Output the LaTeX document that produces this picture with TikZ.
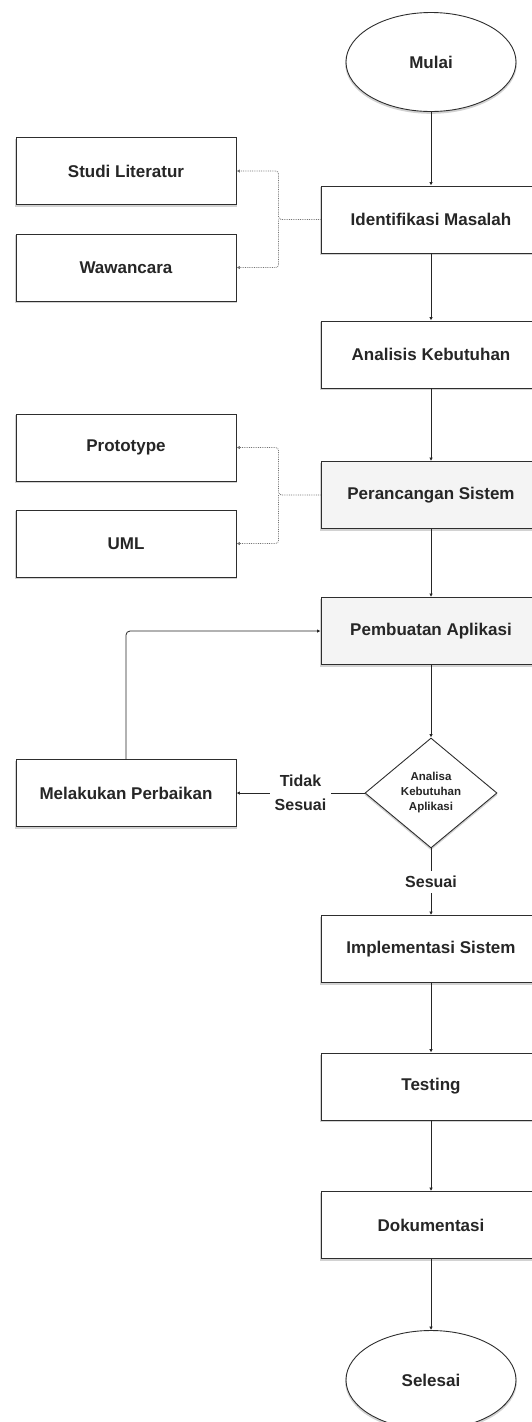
\documentclass[tikz,border=0pt]{standalone}
\usepackage{fontspec}
\setmainfont{Liberation Sans}
\usetikzlibrary{shapes.geometric,arrows.meta,shadows}
\definecolor{boxline}{HTML}{2E2E2E}
\definecolor{graybox}{HTML}{F4F4F4}
\definecolor{txt}{HTML}{262626}
\begin{document}
\begin{tikzpicture}[x=1pt,y=1pt,
  base/.style={draw=boxline, line width=0.9pt, fill=white, text=txt,
    font=\fontsize{17}{20}\selectfont\bfseries,
    drop shadow={opacity=0.35, shadow xshift=0pt, shadow yshift=-1.8pt, shadow scale=1.01}},
  box/.style={base, rectangle, minimum width=220, minimum height=67, inner sep=0pt},
  graybx/.style={box, fill=graybox},
  term/.style={base, ellipse, minimum width=170, minimum height=99, inner sep=0pt},
  decide/.style={base, diamond, minimum width=132, minimum height=110, inner sep=0pt, aspect=1.2,
    align=center, font=\fontsize{11.5}{15}\selectfont\bfseries},
  arrow/.style={draw=black!85, line width=0.8pt, -{Latex[length=3.5pt,width=3.5pt]}},
  dotarrow/.style={draw=black!55, line width=0.8pt, densely dotted, rounded corners=3pt,
    -{Latex[length=3.5pt,width=3.5pt]}},
  lbl/.style={fill=white, text=txt, align=center, inner sep=5pt,
    font=\fontsize{16}{24}\selectfont\bfseries}
]
\useasboundingbox (0,0) rectangle (532,-1422);
\fill[white] (0,0) rectangle (532,-1422);
\clip (0,0) rectangle (532,-1422);

\node[term]   (mulai)  at (431,-62)     {Mulai};
\node[box]    (ident)  at (431,-219.5)  {Identifikasi Masalah};
\node[box]    (studi)  at (126,-171)    {Studi Literatur};
\node[box]    (wawan)  at (126,-267.5)  {Wawancara};
\node[box]    (anal)   at (431,-354.5)  {Analisis Kebutuhan};
\node[box]    (proto)  at (126,-447.5)  {Prototype};
\node[box]    (uml)    at (126,-543.5)  {UML};
\node[graybx] (peran)  at (431,-495)    {Perancangan Sistem};
\node[graybx] (pemb)   at (431,-631)    {Pembuatan Aplikasi};
\node[box]    (perb)   at (126,-793)    {Melakukan Perbaikan};
\node[decide] (diam)   at (431,-793)    {Analisa\\Kebutuhan\\Aplikasi};
\node[box]    (impl)   at (431,-949)    {Implementasi Sistem};
\node[box]    (test)   at (431,-1086.5) {Testing};
\node[box]    (dok)    at (431,-1225)   {Dokumentasi};
\node[term]   (selesai) at (431,-1380)  {Selesai};

\draw[arrow] (mulai) -- (ident);
\draw[arrow] (ident) -- (anal);
\draw[arrow] (anal) -- (peran);
\draw[arrow] (peran) -- (pemb);
\draw[arrow] (pemb) -- (diam);
\draw[arrow] (diam.south) -- node[lbl] {Sesuai} (impl.north);
\draw[arrow] (diam.west) -- node[lbl] {Tidak\\Sesuai} (perb.east);
\draw[arrow, rounded corners=4pt] (perb.north) |- (pemb.west);
\draw[arrow] (impl) -- (test);
\draw[arrow] (test) -- (dok);
\draw[arrow] (dok) -- (selesai);

\coordinate (j1) at ([xshift=-42pt]ident.west);
\draw[dotarrow] (ident.west) -- (j1) |- (studi.east);
\draw[dotarrow] (j1) |- (wawan.east);
\coordinate (j2) at ([xshift=-42pt]peran.west);
\draw[dotarrow] (peran.west) -- (j2) |- (proto.east);
\draw[dotarrow] (j2) |- (uml.east);
\end{tikzpicture}
\end{document}
